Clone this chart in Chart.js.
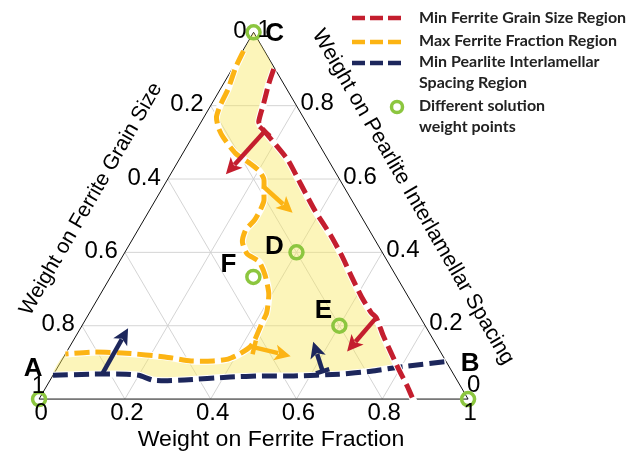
<!DOCTYPE html>
<html>
<head>
<meta charset="utf-8">
<script src="https://cdn.jsdelivr.net/npm/chart.js@4.4.0/dist/chart.umd.min.js"></script>
<style>
html, body { margin: 0; padding: 0; background: #fff; }
</style>
</head>
<body>
<canvas id="ternary" width="634" height="454"></canvas>
<script>
// points are [weight on ferrite fraction, weight on pearlite spacing]
// weight on ferrite grain size = 1 - both
const tickVals = [0, 0.2, 0.4, 0.6, 0.8, 1];
const tickLabels = ['0', '0.2', '0.4', '0.6', '0.8', '1'];

const redLine = [[0.097, 0.900], [0.106, 0.858], [0.120, 0.808], [0.134, 0.756], [0.149, 0.740],
  [0.180, 0.714], [0.254, 0.652], [0.316, 0.587], [0.386, 0.514], [0.455, 0.448], [0.513, 0.388],
  [0.564, 0.331], [0.612, 0.279], [0.657, 0.235], [0.675, 0.222], [0.714, 0.175], [0.754, 0.130],
  [0.796, 0.083], [0.840, 0.036], [0.880, -0.010]];

const orangeLine = [[0.002, 0.949], [0.006, 0.905], [0.018, 0.845], [0.022, 0.800], [0.029, 0.769],
  [0.048, 0.740], [0.072, 0.714], [0.123, 0.670], [0.168, 0.644], [0.201, 0.623], [0.224, 0.600],
  [0.241, 0.566], [0.254, 0.540], [0.258, 0.514], [0.258, 0.487], [0.251, 0.461], [0.260, 0.428],
  [0.287, 0.396], [0.325, 0.375], [0.357, 0.339], [0.392, 0.287], [0.413, 0.235], [0.416, 0.206],
  [0.422, 0.162], [0.421, 0.143], [0.406, 0.123], [0.386, 0.109], [0.354, 0.104], [0.302, 0.104],
  [0.236, 0.115], [0.141, 0.125], [0.065, 0.128], [0.000, 0.123]];

const navyLine = [[0.000, 0.065], [0.095, 0.068], [0.169, 0.068], [0.200, 0.065], [0.238, 0.052],
  [0.268, 0.050], [0.313, 0.052], [0.415, 0.060], [0.488, 0.063], [0.562, 0.063], [0.666, 0.068],
  [0.736, 0.076], [0.807, 0.089], [0.897, 0.102]];

// arrows: [from, to]
const redArrows = [[[0.161, 0.730], [0.129, 0.613]], [[0.675, 0.222], [0.653, 0.130]]];
const orangeArrows = [[[0.234, 0.579], [0.337, 0.508]], [[0.431, 0.141], [0.528, 0.117]]];
const navyArrows = [[[0.113, 0.068], [0.111, 0.193]], [[0.623, 0.076], [0.561, 0.156]]];

const pointNames = ['A', 'B', 'C', 'D', 'E', 'F'];
const pointF = [0, 1, 0, 0.4, 0.6, 0.333];
const pointP = [0, 0, 1, 0.4, 0.2, 0.333];

const legendLabels = [['Min Ferrite Grain Size Region'], ['Max Ferrite Fraction Region'],
  ['Min Pearlite Interlamellar', 'Spacing Region'], ['Different solution', 'weight points']];

const RED = '#c41e2e', ORANGE = '#fcb414', NAVY = '#1d275c', GREEN = '#8cc63f';
const FONT = "'Liberation Sans', Arial, sans-serif";

const H = Math.sqrt(3) / 2;
function toXY(f, p) { return { x: f + 0.5 * p, y: p * H }; }
const xy = pts => pts.map(d => toXY(d[0], d[1]));

// shaded region: C, down the red curve to the navy line, back along navy, up the orange curve
const region = [[0, 1]].concat(redLine.slice(0, 18), navyLine.slice(0, 12).reverse(),
  orangeLine.slice().reverse(), [[0, 1]]);

function curve(pts, color, order) {
  return [
    { type: 'line', data: xy(pts), borderColor: '#fff', borderWidth: 7, pointRadius: 0, tension: 0.2, order: order + 1 },
    { type: 'line', data: xy(pts), borderColor: color, borderWidth: 5, borderDash: [15, 6], pointRadius: 0, tension: 0.2, order: order }
  ];
}

function pix(chart, f, p) {
  const q = toXY(f, p);
  return { x: chart.scales.x.getPixelForValue(q.x), y: chart.scales.y.getPixelForValue(q.y) };
}

function text(ctx, s, x, y, font, align, rot, sx, base) {
  ctx.save();
  ctx.translate(x, y);
  ctx.rotate(rot || 0);
  ctx.scale(sx || 1, 1);
  ctx.font = font;
  ctx.textAlign = align || 'center';
  ctx.textBaseline = base || 'middle';
  ctx.fillText(s, 0, 0);
  ctx.restore();
}

function arrow(ctx, a, b, color, bar) {
  const dx = b.x - a.x, dy = b.y - a.y, len = Math.hypot(dx, dy);
  const ux = dx / len, uy = dy / len, hl = 16, hw = 8;
  ctx.save();
  ctx.strokeStyle = color;
  ctx.fillStyle = color;
  ctx.lineWidth = 4.5;
  ctx.beginPath();
  ctx.moveTo(a.x, a.y);
  ctx.lineTo(b.x - ux * hl * 0.8, b.y - uy * hl * 0.8);
  ctx.stroke();
  ctx.beginPath();
  ctx.moveTo(b.x, b.y);
  ctx.lineTo(b.x - ux * hl - uy * hw, b.y - uy * hl + ux * hw);
  ctx.lineTo(b.x - ux * hl * 0.75, b.y - uy * hl * 0.75);
  ctx.lineTo(b.x - ux * hl + uy * hw, b.y - uy * hl - ux * hw);
  ctx.closePath();
  ctx.fill();
  if (bar) {
    ctx.beginPath();
    ctx.moveTo(a.x - uy * 7, a.y + ux * 7);
    ctx.lineTo(a.x + uy * 7, a.y - ux * 7);
    ctx.stroke();
  }
  ctx.restore();
}

const ternaryPlugin = {
  id: 'ternary',
  beforeDatasetsDraw(chart) {
    const ctx = chart.ctx;
    ctx.save();
    // grid
    ctx.strokeStyle = '#cfcfcf';
    ctx.lineWidth = 0.9;
    tickVals.slice(1, -1).forEach(v => {
      const segs = [[[0, v], [1 - v, v]], [[v, 0], [v, 1 - v]], [[0, 1 - v], [1 - v, 0]]];
      segs.forEach(s => {
        const a = pix(chart, s[0][0], s[0][1]), b = pix(chart, s[1][0], s[1][1]);
        ctx.beginPath(); ctx.moveTo(a.x, a.y); ctx.lineTo(b.x, b.y); ctx.stroke();
      });
    });
    // triangle
    const A = pix(chart, 0, 0), B = pix(chart, 1, 0), C = pix(chart, 0, 1);
    ctx.strokeStyle = '#111';
    ctx.lineWidth = 1;
    ctx.beginPath(); ctx.moveTo(A.x, A.y); ctx.lineTo(B.x, B.y); ctx.lineTo(C.x, C.y); ctx.closePath(); ctx.stroke();
    ctx.restore();
  },
  afterDatasetsDraw(chart) {
    const ctx = chart.ctx;
    const sets = [[redArrows, RED, [1, 0]], [orangeArrows, ORANGE, [0, 1]], [navyArrows, NAVY, [0, 1]]];
    sets.forEach(([list, color, bars]) => {
      list.forEach((a, i) => arrow(ctx, pix(chart, a[0][0], a[0][1]), pix(chart, a[1][0], a[1][1]), color, bars[i]));
    });
  },
  afterDraw(chart) {
    const ctx = chart.ctx;
    ctx.save();
    ctx.fillStyle = '#000';
    const tf = '24px ' + FONT;
    tickVals.forEach((v, i) => {
      const s = tickLabels[i];
      // bottom: ferrite fraction
      let P = pix(chart, v, 0);
      text(ctx, s, P.x + 2, P.y + 14, tf, 'center');
      // left: ferrite grain size (0 at top)
      P = pix(chart, 0, 1 - v);
      if (v === 1) text(ctx, s, P.x + 6, P.y - 13, tf, 'right');
      else text(ctx, s, P.x - 7, P.y - 1, tf, 'right');
      // right: pearlite spacing (0 at bottom)
      P = pix(chart, 1 - v, v);
      if (v === 0) text(ctx, s, P.x - 1, P.y - 14, tf, 'left');
      else text(ctx, s, P.x + 4, P.y - 2, tf, 'left');
    });

    text(ctx, 'Weight on Ferrite Fraction', 271, 446, '22px ' + FONT, 'center', 0, 1.05, 'alphabetic');
    text(ctx, 'Weight on Ferrite Grain Size', 91, 199, '21px ' + FONT, 'center', -Math.PI / 3);
    text(ctx, 'Weight on Pearlite Interlamellar Spacing', 413, 197, '21.5px ' + FONT, 'center', Math.PI / 3);

    // point names
    const off = { A: [-6, -30], B: [2, -35], C: [21, 2], D: [-22, -6], E: [-16, -15], F: [-25, -12] };
    pointNames.forEach((n, i) => {
      const P = pix(chart, pointF[i], pointP[i]);
      text(ctx, n, P.x + off[n][0], P.y + off[n][1], 'bold 26px ' + FONT, 'center');
    });

    // legend
    const lx = 352, tx = 419;
    const lineY = [18, 42, 63];
    [RED, ORANGE, NAVY].forEach((c, i) => {
      ctx.strokeStyle = c;
      ctx.lineWidth = 4.5;
      ctx.setLineDash([13, 5]);
      ctx.beginPath(); ctx.moveTo(lx, lineY[i]); ctx.lineTo(lx + 52, lineY[i]); ctx.stroke();
    });
    ctx.setLineDash([]);
    ctx.strokeStyle = GREEN;
    ctx.lineWidth = 3.5;
    ctx.beginPath(); ctx.arc(397, 107, 5.5, 0, Math.PI * 2); ctx.stroke();
    ctx.fillStyle = '#222';
    const rows = [[18], [41], [62, 83], [106, 127]];
    legendLabels.forEach((lines, i) => {
      lines.forEach((s, j) => text(ctx, s, tx, rows[i][j], 'bold 16px Lato, ' + FONT, 'left'));
    });
    ctx.restore();
  }
};

const datasets = [
  { type: 'line', data: xy(region), borderWidth: 0, pointRadius: 0, tension: 0.2,
    fill: 'shape', backgroundColor: 'rgba(248,232,90,0.42)', order: 20 }
].concat(
  curve(navyLine, NAVY, 8),
  curve(orangeLine, ORANGE, 6),
  curve(redLine, RED, 4),
  [{ type: 'scatter', data: pointF.map((f, i) => toXY(f, pointP[i])), pointStyle: 'circle',
    pointRadius: 6.5, borderWidth: 3.5, borderColor: GREEN, backgroundColor: 'rgba(255,255,255,0)', order: 1 }]
);

new Chart(document.getElementById('ternary'), {
  type: 'scatter',
  data: { datasets: datasets },
  options: {
    responsive: false,
    animation: false,
    layout: { padding: 0 },
    plugins: { legend: { display: false }, tooltip: { enabled: false } },
    scales: {
      x: { type: 'linear', min: -30 / 443, max: 604 / 443, display: false },
      y: { type: 'linear', min: -47 / 443, max: 407 / 443, display: false }
    }
  },
  plugins: [ternaryPlugin]
});
</script>
</body>
</html>
